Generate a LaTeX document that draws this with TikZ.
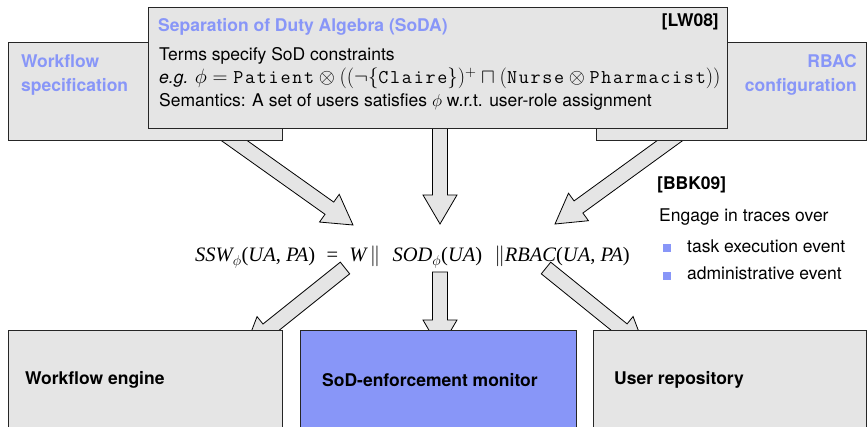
\documentclass[tikz,border=0pt]{standalone}
\usepackage{fontspec}
\setmainfont{TeX Gyre Heros}
\newfontfamily\tms{Liberation Serif}
\newfontfamily\ttwide{Latin Modern Mono}[LetterSpace=9]
\usetikzlibrary{calc}
\definecolor{boxgray}{RGB}{229,229,229}
\definecolor{sodblue}{RGB}{136,150,248}
\newcommand{\fs}{\fontsize{17.5}{21}\selectfont}
\newcommand{\ti}[1]{{\itshape #1}}
\newcommand{\tw}[1]{\text{\ttwide #1}}
\usepackage{amsmath}
\newcommand{\blockarrow}[2]{%
  \draw[barrowsty] let \p1=(#1), \p2=(#2),
    \n1={atan2(\y2-\y1,\x2-\x1)}, \n2={veclen(\x2-\x1,\y2-\y1)} in
    [shift={(\p1)}, rotate=\n1]
    (0pt,-7.5pt) -- ({\n2-29pt},-7.5pt) -- ({\n2-29pt},-17pt) -- ({\n2+0pt},0pt)
    -- ({\n2-29pt},17pt) -- ({\n2-29pt},7.5pt) -- (0pt,7.5pt) -- cycle;}
\begin{document}
\begin{tikzpicture}[x=1pt,y=-1pt,
  box/.style={draw=black!85, line width=1pt, fill=boxgray, anchor=north west, inner sep=0pt},
  bluebox/.style={box, fill=sodblue},
  barrowsty/.style={draw=black, line width=0.8pt, fill=boxgray, line join=miter},
  txt/.style={anchor=base west, inner sep=0pt, font=\fs},
  txtr/.style={anchor=base east, inner sep=0pt, font=\fs},
  bluetitle/.style={text=sodblue, font=\fs\bfseries},
  boldtxt/.style={font=\fs\bfseries},
  bullet/.style={fill=sodblue, minimum size=8pt, inner sep=0pt}]
\useasboundingbox (0,0) rectangle (867,427);

% arrow end points
\coordinate (a1s) at (225,134);
\coordinate (a1e) at (353,225);
\coordinate (a2s) at (440,120);
\coordinate (a2e) at (440,224);
\coordinate (a3s) at (679,134);
\coordinate (a3e) at (555,224);
\coordinate (a4s) at (345,268);
\coordinate (a4e) at (245,348);
\coordinate (a5s) at (546,268);
\coordinate (a5e) at (645,348);
\coordinate (a6s) at (440,272);
\coordinate (a6e) at (440,349);

\blockarrow{a1s}{a1e}
\blockarrow{a2s}{a2e}
\blockarrow{a3s}{a3e}

% top boxes
\node[box, minimum width=274pt, minimum height=98pt] (wfspec) at (8,42) {};
\node[box, minimum width=270pt, minimum height=98pt] (rbac) at (596,42) {};
\node[box, minimum width=579pt, minimum height=121pt] (soda) at (148,7) {};

\node[txt, bluetitle] (wfs1) at (21,68) {Workflow};
\node[txt, bluetitle] (wfs2) at (21,92) {specification};
\node[txtr, bluetitle] (rb1) at (857,68) {RBAC};
\node[txtr, bluetitle] (rb2) at (857,92) {configuration};

\node[txt, bluetitle] (sodatitle) at (158,32) {Separation of Duty Algebra (SoDA)};
\node[txtr, boldtxt] (lw) at (719,27) {[LW08]};
\node[txt] (terms) at (159,61) {Terms specify SoD constraints};
\node[txt] (eg) at (159,84) {\textit{e.g.} {\fontsize{19.5}{21}\selectfont$\phi = \tw{Patient}\otimes((\neg\{\tw{Claire}\})^{+}\sqcap(\tw{Nurse}\otimes\tw{Pharmacist}))$}};
\node[txt] (sem) at (159,107) {Semantics: A set of users satisfies $\phi$ w.r.t. user-role assignment};

% formula
\node[anchor=base west, inner sep=0pt, font=\tms\fontsize{20.5}{24}\selectfont] (formula) at (195,262)
  {\ti{SSW}$_{\phi}$(\ti{UA}, \ti{PA})\hspace{0.55em}=\hspace{0.55em}\ti{W}\,$\parallel$\hspace{0.6em}\ti{SOD}$_{\phi}$(\ti{UA})\hspace{0.6em}$\parallel$\ti{RBAC}(\ti{UA}, \ti{PA})};

% BBK09
\node[txt, boldtxt] (bbk) at (657,190) {[BBK09]};
\node[txt] (engage) at (659,222) {Engage in traces over};
\node[bullet] (bul1) at (667,248) {};
\node[bullet] (bul2) at (667,276) {};
\node[txt] (task) at (687,253) {task execution event};
\node[txt] (admin) at (687,280) {administrative event};

% lower arrows
\blockarrow{a4s}{a4e}
\blockarrow{a5s}{a5e}
\blockarrow{a6s}{a6e}

% bottom boxes
\node[box, minimum width=274pt, minimum height=110pt] (wfeng) at (8,330) {};
\node[bluebox, minimum width=276pt, minimum height=110pt] (sodmon) at (300,330) {};
\node[box, minimum width=273pt, minimum height=110pt] (userrep) at (593,330) {};
\node[txt, boldtxt] (wfengt) at (25,384) {Workflow engine};
\node[txt, boldtxt] (sodmont) at (322,386) {SoD-enforcement monitor};
\node[txt, boldtxt] (userrept) at (614,384) {User repository};
\end{tikzpicture}
\end{document}
